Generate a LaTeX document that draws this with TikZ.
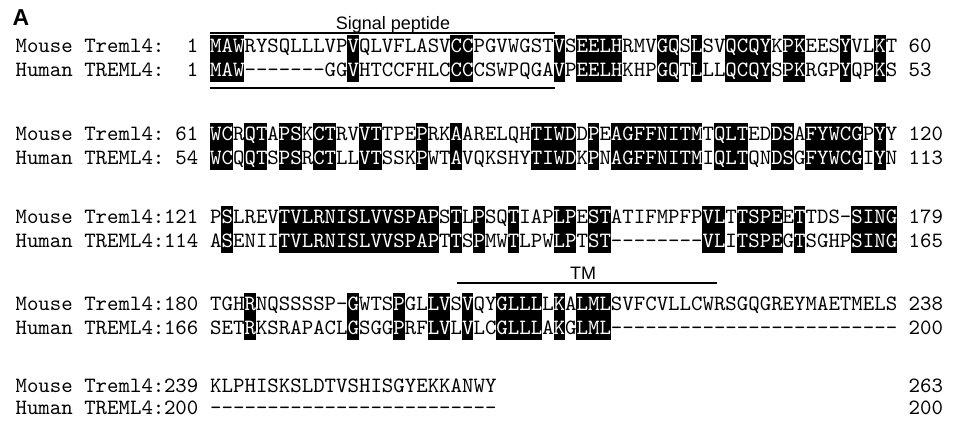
\documentclass[tikz,border=0pt]{standalone}
\usepackage{xcolor}
\usepackage{fontspec}
\newfontfamily\arial{Liberation Sans}
\newfontfamily\seqfont{lmmono10-regular.otf}
\usepackage{tikz}
\usetikzlibrary{positioning}

% white letters on the identity boxes, and runs of gap dashes
\newcommand{\hw}[1]{\textcolor{white}{#1}}
\newcommand{\gaps}[1]{\foreach \i in {1,...,#1}{\hbox{-}}}

% one row of the alignment: name, baseline, label, first no., residues, last no.
\newcommand{\alnrow}[6]{%
  \node[seq] (l#1) at (15.35,#2) {#3};
  \node[num] (s#1) at (198.55,#2) {#4};
  \node[seq] (#1) at (210,#2) {#5};
  \node[seq] (e#1) at (908.5,#2) {#6};}

\begin{document}
\begin{tikzpicture}[x=1pt, y=-1pt,
    seq/.style={font=\seqfont\fontsize{21.81}{24}\selectfont, inner sep=0pt, anchor=base west},
    num/.style={seq, anchor=base east},
    idbox/.style={fill=black},
    feat/.style={line width=1.3pt},
    ann/.style={font=\arial\fontsize{18}{20}\selectfont, inner sep=0pt, anchor=base}]

    \useasboundingbox (0,0) rectangle (957,426);

    % Panel letter
    \node[font=\arial\bfseries\fontsize{23}{25}\selectfont, inner sep=0pt] (panel) at (21,18) {A};

    % Signal peptide
    \coordinate (sp0) at (210,33);
    \coordinate (sp1) at (555,33);
    \coordinate (sq0) at (210,88);
    \coordinate (sq1) at (555,88);
    \draw[feat] (sp0) -- (sp1);
    \draw[feat] (sq0) -- (sq1);
    \node[ann] (sptxt) at (393,29) {Signal peptide};

    % Block 1 (1-60 / 1-53)
    \foreach \a/\b in {1/3,13/13,22/23,31/31,33/36,40/41,43/43,46/49,51/52,56/56,59/59} {
        \fill[idbox] ({210+(\a-1)*11.45},35) rectangle ({210+\b*11.45},82);
    }
    \alnrow{m1}{52}{Mouse Treml4:}{1}{\hw{MAW}RYSQLLLVP\hw{V}QLVFLASV\hw{CC}PGVWGST\hw{V}S\hw{EELH}RMV\hw{GQ}S\hw{L}SV\hw{QCQY}K\hw{PK}EES\hw{Y}VL\hw{K}T}{60}
    \alnrow{h1}{76}{Human TREML4:}{1}{\hw{MAW}\gaps{7}GG\hw{V}HTCCFHLC\hw{CC}CSWPQGA\hw{V}P\hw{EELH}KHP\hw{GQ}T\hw{L}LL\hw{QCQY}S\hw{PK}RGP\hw{Y}QP\hw{K}S}{53}

    % Block 2 (61-120 / 54-113)
    \foreach \a/\b in {1/2,4/5,7/8,10/11,14/15,19/19,22/22,29/32,34/34,36/43,45/47,50/51,53/57,59/59} {
        \fill[idbox] ({210+(\a-1)*11.45},123) rectangle ({210+\b*11.45},170);
    }
    \alnrow{m2}{140}{Mouse Treml4:}{61}{\hw{WC}R\hw{QT}A\hw{PS}K\hw{CT}RV\hw{VT}TPE\hw{P}RK\hw{A}ARELQH\hw{TIWD}D\hw{P}E\hw{AGFFNITM}T\hw{QLT}ED\hw{DS}A\hw{FYWCG}P\hw{Y}Y}{120}
    \alnrow{h2}{164}{Human TREML4:}{54}{\hw{WC}Q\hw{QT}S\hw{PS}R\hw{CT}LL\hw{VT}SSK\hw{P}WT\hw{A}VQKSHY\hw{TIWD}K\hw{P}N\hw{AGFFNITM}I\hw{QLT}QN\hw{DS}G\hw{FYWCG}I\hw{Y}N}{113}

    % Block 3 (121-179 / 114-165)
    \foreach \a/\b in {2/2,7/20,22/22,24/24,27/27,31/32,34/35,44/45,47/50,52/52,57/60} {
        \fill[idbox] ({210+(\a-1)*11.45},206) rectangle ({210+\b*11.45},253);
    }
    \alnrow{m3}{223}{Mouse Treml4:}{121}{P\hw{S}LREV\hw{TVLRNISLVVSPAP}S\hw{T}L\hw{P}SQ\hw{T}IAP\hw{LP}E\hw{ST}ATIFMPFP\hw{VL}T\hw{TSPE}E\hw{T}TDS-\hw{SING}}{179}
    \alnrow{h3}{247}{Human TREML4:}{114}{A\hw{S}ENII\hw{TVLRNISLVVSPAP}T\hw{T}S\hw{P}MW\hw{T}LPW\hw{LP}T\hw{ST}\gaps{8}\hw{VL}I\hw{TSPE}G\hw{T}SGHP\hw{SING}}{165}

    % TM
    \coordinate (tm0) at (457,283);
    \coordinate (tm1) at (717,283);
    \draw[feat] (tm0) -- (tm1);
    \node[ann] (tmtxt) at (583,279) {TM};

    % Block 4 (180-238 / 166-200)
    \foreach \a/\b in {4/4,13/13,17/17,20/21,23/23,26/29,31/31,33/35} {
        \fill[idbox] ({210+(\a-1)*11.45},293) rectangle ({210+\b*11.45},340);
    }
    \alnrow{m4}{310}{Mouse Treml4:}{180}{TGH\hw{R}NQSSSSP-\hw{G}WTS\hw{P}GL\hw{LV}S\hw{V}QY\hw{GLLL}L\hw{K}A\hw{LML}SVFCVLLCWRSGQGREYMAETMELS}{238}
    \alnrow{h4}{334}{Human TREML4:}{166}{SET\hw{R}KSRAPACL\hw{G}SGG\hw{P}RF\hw{LV}L\hw{V}LC\hw{GLLL}A\hw{K}G\hw{LML}\gaps{25}}{200}

    % Block 5 (239-263 / 200)
    \alnrow{m5}{392}{Mouse Treml4:}{239}{KLPHISKSLDTVSHISGYEKKANWY}{263}
    \alnrow{h5}{414}{Human TREML4:}{200}{\gaps{25}}{200}
\end{tikzpicture}
\end{document}
